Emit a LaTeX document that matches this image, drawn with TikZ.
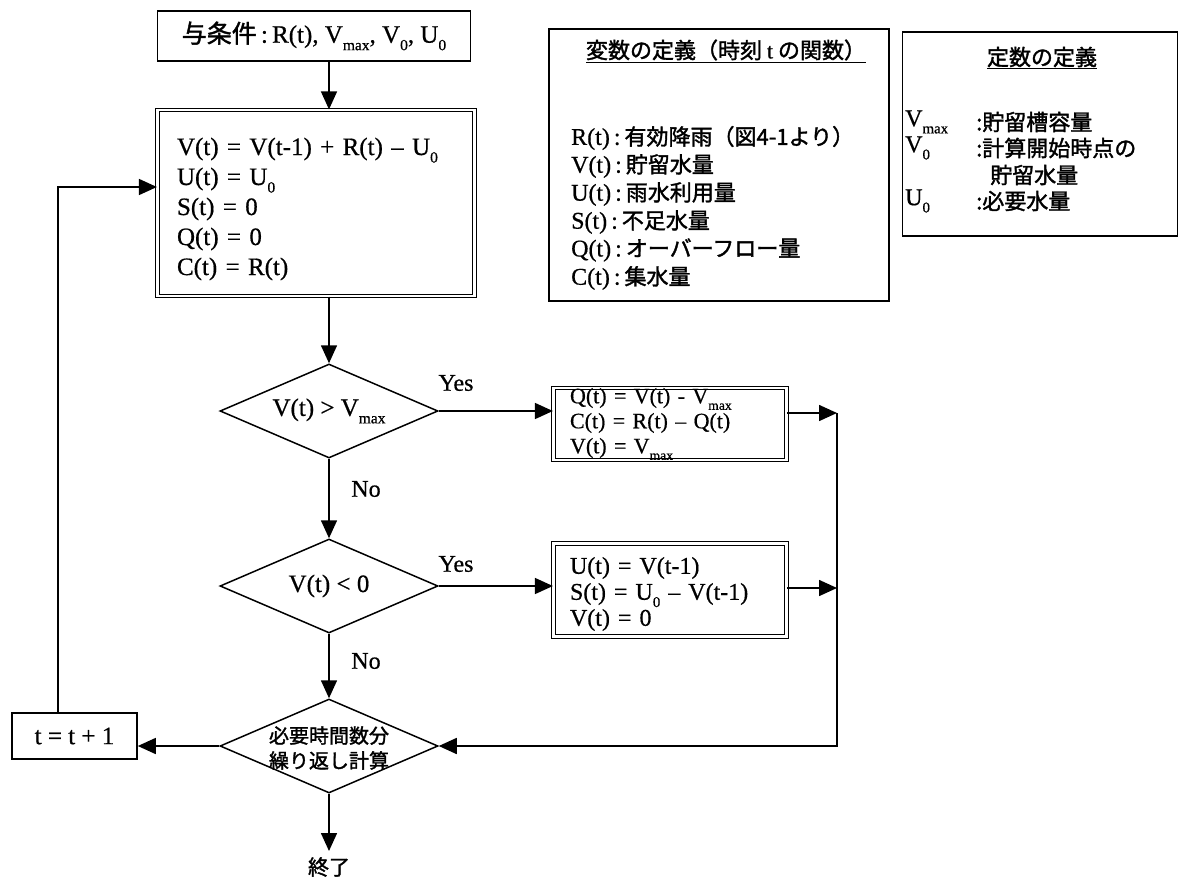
\documentclass[tikz,border=0pt]{standalone}
\usepackage{fontspec}
\usepackage{graphicx}
\setmainfont{Liberation Serif}[FakeBold=0.6]
\newfontfamily\jp{Noto Sans CJK JP}[FakeBold=1.6]
\usetikzlibrary{shapes.geometric,arrows.meta}
\newcommand\subx[1]{\raisebox{-0.3em}{\scalebox{0.62}{#1}}}
\begin{document}
\begin{tikzpicture}[x=1pt,y=-1pt,
  arr/.style={line width=1.6pt,-{Triangle[length=18pt,width=16pt]}},
  sbox/.style={draw,line width=1.6pt,inner sep=0pt},
  dbl/.style={draw,line width=1.2pt,double,double distance=2.4pt,inner sep=0pt},
  dia/.style={diamond,draw,line width=1.5pt,aspect=2.32,minimum width=218pt,minimum height=94pt,inner sep=0pt},
  txt/.style={inner sep=0pt,align=left},
  big/.style={font=\fontsize{25}{30}\selectfont},
  mid/.style={font=\fontsize{24}{26}\selectfont},
  small/.style={font=\fontsize{22}{25}\selectfont},
  row/.style={anchor=west,inner sep=0pt,font=\fontsize{24}{28}\selectfont},
  jrow/.style={anchor=west,inner sep=0pt,font=\fontsize{22}{26}\selectfont\jp},
  lab/.style={inner sep=0pt,font=\fontsize{24}{28}\selectfont}]
\useasboundingbox (0,0) rectangle (1186,883);

% top box
\node[sbox,big,minimum width=313pt,minimum height=50pt] (given) at (314,36)
  {{\jp 与条件}\,:\,R(t), V\subx{max}, V\subx{0}, U\subx{0}};

% main calc box
\node[dbl,minimum width=317pt,minimum height=186pt] (calc) at (316,203) {};
\node[txt,big,text width=278pt] (calct) at (316,209)
  {V(t) = V(t-1) + R(t) -- U\subx{0}\\
   U(t) = U\subx{0}\\
   S(t) = 0\\
   Q(t) = 0\\
   C(t) = R(t)};

% diamonds
\node[dia] (d1) at (329,411) {};
\node[lab,font=\fontsize{25}{30}\selectfont] (d1t) at (329,411) {V(t) > V\subx{max}};
\node[dia] (d2) at (329,586) {};
\node[lab,font=\fontsize{25}{30}\selectfont] (d2t) at (329,586) {V(t) < 0};
\node[dia] (d3) at (329,746) {};
\node[lab,align=center,font=\fontsize{20}{25}\selectfont\jp] (d3t) at (329,748) {必要時間数分\\繰り返し計算};

% branch boxes
\node[dbl,minimum width=233pt,minimum height=72pt] (b1) at (670,424) {};
\node[txt,small,text width=200pt] (b1t) at (670,424)
  {Q(t) = V(t) - V\subx{max}\\
   C(t) = R(t) -- Q(t)\\
   V(t) = V\subx{max}};
\node[dbl,minimum width=233pt,minimum height=93pt] (b2) at (670,590) {};
\node[txt,mid,text width=200pt] (b2t) at (670,594)
  {U(t) = V(t-1)\\
   S(t) = U\subx{0} -- V(t-1)\\
   V(t) = 0};

% t = t + 1
\node[sbox,big,minimum width=125pt,minimum height=46pt] (tb) at (74.5,736) {t = t + 1};

% end
\node[inner sep=0pt,font=\fontsize{21}{24}\selectfont\jp] (end) at (329,867) {終了};
\coordinate (endtip) at (329,851);

% Yes / No labels
\node[lab] (y1) at (456,383) {Yes};
\node[lab] (n1) at (366,489) {No};
\node[lab] (y2) at (456,564) {Yes};
\node[lab] (n2) at (366,661) {No};

% variable definitions box
\node[sbox,minimum width=340pt,minimum height=272pt] (vbox) at (719,165) {};
\node[inner sep=0pt,font=\fontsize{22}{26}\selectfont] (vtitle) at (726,51)
  {\underline{\jp 変数の定義（時刻 {\rmfamily t} の関数）}};
\node[row] (v1) at (571,138) {R(t)\,:\,{\jp\fontsize{22}{26}\selectfont 有効降雨（図4-1より）}};
\node[row] (v2) at (571,166) {V(t)\,:\,{\jp\fontsize{22}{26}\selectfont 貯留水量}};
\node[row] (v3) at (571,194) {U(t)\,:\,{\jp\fontsize{22}{26}\selectfont 雨水利用量}};
\node[row] (v4) at (571,222) {S(t)\,:\,{\jp\fontsize{22}{26}\selectfont 不足水量}};
\node[row] (v5) at (571,250) {Q(t)\,:\,{\jp\fontsize{22}{26}\selectfont オーバーフロー量}};
\node[row] (v6) at (571,278) {C(t)\,:\,{\jp\fontsize{22}{26}\selectfont 集水量}};

% constants box
\node[sbox,minimum width=275pt,minimum height=204pt] (cbox) at (1040,134) {};
\node[inner sep=0pt,font=\fontsize{22}{26}\selectfont\jp] (ctitle) at (1042,58) {\underline{定数の定義}};
\node[row] (c1s) at (905,122) {V\subx{max}};
\node[row] (c2s) at (905,148) {V\subx{0}};
\node[row] (c4s) at (905,201) {U\subx{0}};
\node[jrow] (c1) at (976,122) {:貯留槽容量};
\node[jrow] (c2) at (976,148) {:計算開始時点の};
\node[jrow] (c3) at (990,175) {貯留水量};
\node[jrow] (c4) at (976,201) {:必要水量};

% connectors
\draw[arr] (given.south -| d1.north) -- (calc.north -| d1.north);
\draw[arr] (calc.south -| d1.north) -- (d1.north);
\draw[arr] (d1.south) -- (d2.north);
\draw[arr] (d2.south) -- (d3.north);
\draw[arr] (d3.south) -- (endtip);
\draw[arr] (d1.east) -- (d1.east -| b1.west);
\draw[arr] (d2.east) -- (d2.east -| b2.west);
\coordinate (r1) at (837,413);
\coordinate (r2) at (837,588);
\draw[arr] (r1 -| b1.east) -- (r1);
\draw[arr] (r2 -| b2.east) -- (r2);
\draw[arr] (r1) -- (r1 |- d3.east) -- (d3.east);
\draw[arr] (d3.west) -- (d3.west -| tb.east);
\coordinate (fb) at (58,187);
\draw[arr] (tb.north -| fb) -- (fb) -- (fb -| calc.west);
\end{tikzpicture}
\end{document}
